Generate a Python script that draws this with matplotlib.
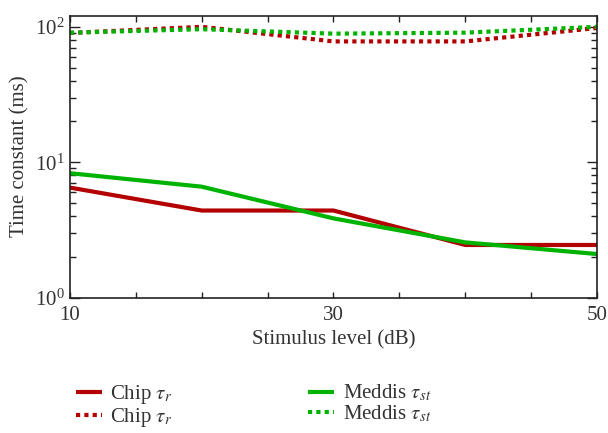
import numpy as np
import matplotlib
matplotlib.use("Agg")
import matplotlib.pyplot as plt
from matplotlib.ticker import FixedLocator, LogLocator, NullFormatter

# stimulus levels (dB)
levels = [10, 20, 30, 40, 50]

# time constants (ms)
chip_tau_r_solid = [6.5, 4.4, 4.4, 2.45, 2.45]
meddis_tau_st_solid = [8.3, 6.6, 3.85, 2.56, 2.1]
chip_tau_r_dotted = [90.0, 100.0, 78.0, 78.0, 98.0]
meddis_tau_st_dotted = [90.5, 96.0, 89.0, 90.5, 100.0]

labels = [r"Chip $\tau_r$", r"Chip $\tau_r$", r"Meddis $\tau_{st}$", r"Meddis $\tau_{st}$"]

RED = "#b30000"
GREEN = "#00b300"

plt.rcParams["font.family"] = ["Liberation Serif", "DejaVu Serif"]
plt.rcParams["mathtext.fontset"] = "stix"
plt.rcParams["font.size"] = 15

fig = plt.figure(figsize=(6.08, 4.33), dpi=100)
ax = fig.add_axes([0.115, 0.3125, 0.867, 0.6515])

lw = 3.0
h1, = ax.plot(levels, chip_tau_r_solid, color=RED, lw=lw, solid_capstyle="butt")
h2, = ax.plot(levels, chip_tau_r_dotted, color=RED, lw=lw, linestyle=(0, (1, 1)),
              dash_capstyle="butt")
h3, = ax.plot(levels, meddis_tau_st_solid, color=GREEN, lw=lw, solid_capstyle="butt")
h4, = ax.plot(levels, meddis_tau_st_dotted, color=GREEN, lw=lw, linestyle=(0, (1, 1)),
              dash_capstyle="butt")

ax.set_yscale("log")
ax.set_xlim(10, 50)
ax.set_ylim(1, 121)
ax.xaxis.set_major_locator(FixedLocator([10, 30, 50]))
ax.xaxis.set_minor_locator(FixedLocator([15, 20, 25, 35, 40, 45]))
ax.yaxis.set_major_locator(LogLocator(base=10, numticks=5))
ax.yaxis.set_minor_locator(LogLocator(base=10, subs=np.arange(2, 10), numticks=20))
ax.yaxis.set_minor_formatter(NullFormatter())

ax.tick_params(which="both", direction="in", top=True, right=True, width=1.0, colors="#222222",
               labelcolor="#333333")
ax.tick_params(axis="x", which="both", length=4, pad=6)
ax.tick_params(axis="y", which="major", length=7, pad=4)
ax.tick_params(axis="y", which="minor", length=4)
for s in ax.spines.values():
    s.set_linewidth(1.2)
    s.set_color("#222222")

ax.set_xlabel("Stimulus level (dB)", color="#333333", labelpad=4)
ax.set_ylabel("Time constant (ms)", color="#333333", labelpad=4)

fig.legend([h1, h2, h3, h4], labels, ncol=2, loc="upper left",
           bbox_to_anchor=(0.108, 0.14), frameon=False, handlelength=1.25,
           handletextpad=0.4, columnspacing=6.5, labelspacing=0.0, borderpad=0,
           labelcolor="#333333")

fig.savefig("out.png", dpi=100)
